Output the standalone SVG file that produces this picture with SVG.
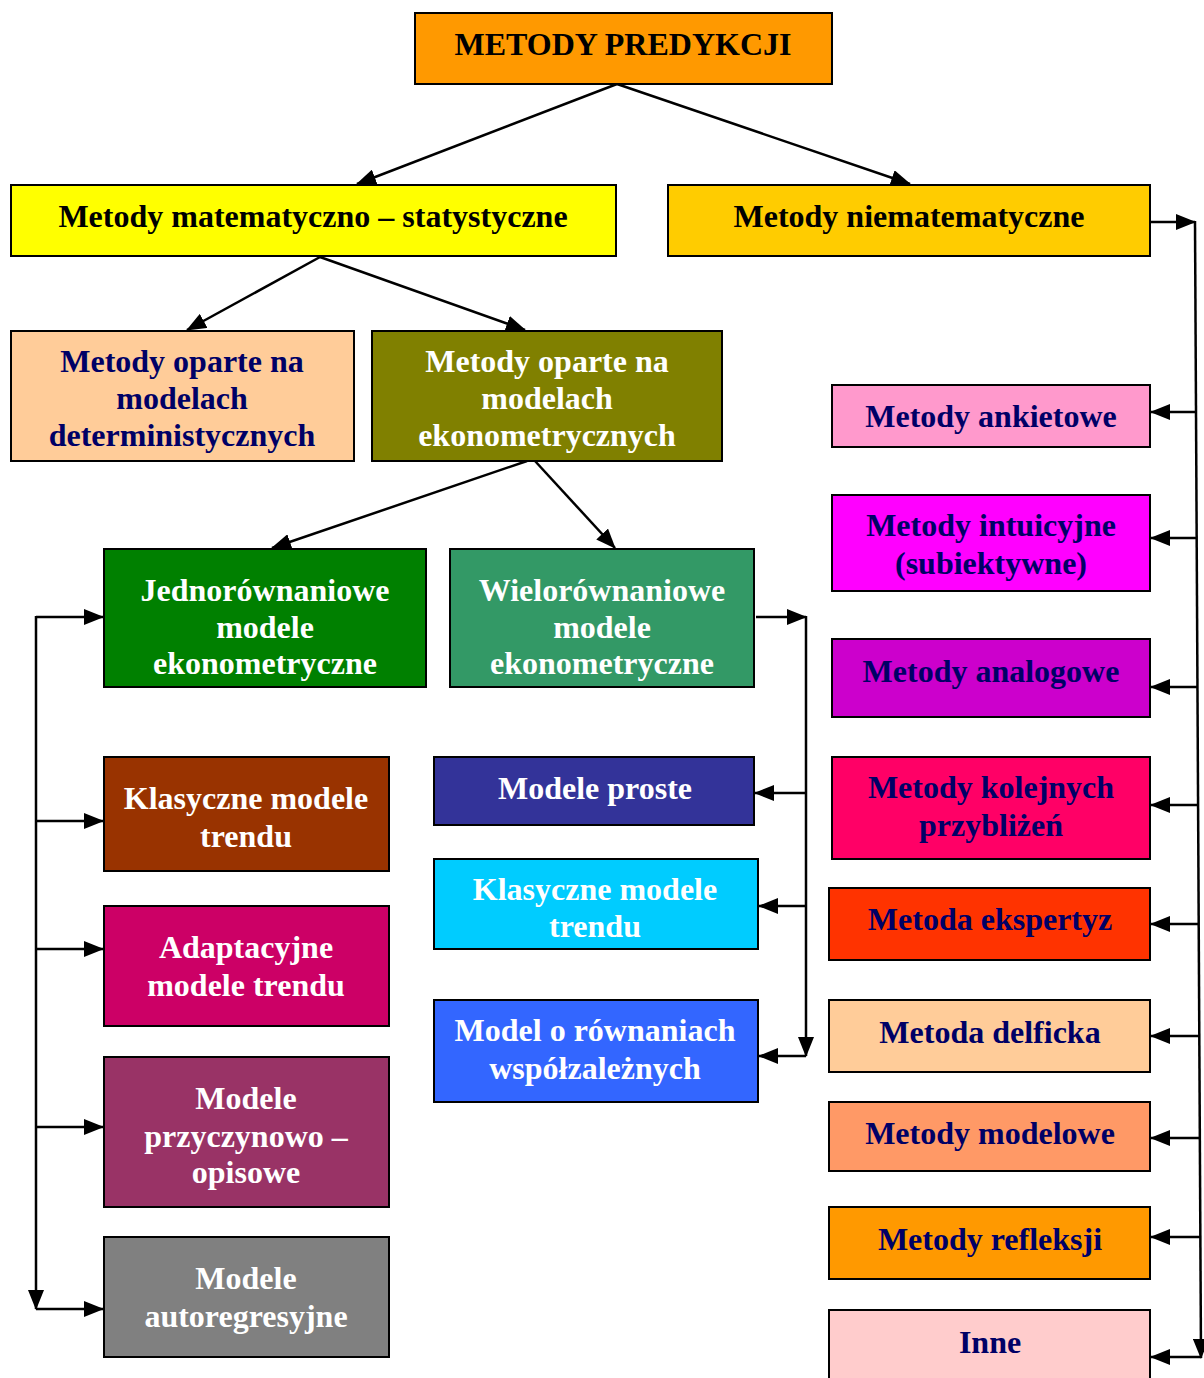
<svg xmlns="http://www.w3.org/2000/svg" width="1204" height="1378" viewBox="0 0 1204 1378">
<style>
.b{stroke:#000;stroke-width:2}
.t{font-family:"Liberation Serif","Times New Roman",serif;font-weight:bold;font-size:32px;text-anchor:middle}
.k{fill:#000}
.n{fill:#000066}
.w{fill:#fff}
.c{fill:none;stroke:#000;stroke-width:2.5}
</style>
<defs>
<marker id="ah" markerUnits="userSpaceOnUse" markerWidth="20" markerHeight="16" refX="19" refY="8" orient="auto">
<path d="M0,0 L20,8 L0,16 Z" fill="#000"/>
</marker>
</defs>
<rect width="1204" height="1378" fill="#fff"/>

<g id="connectors">
<line class="c" x1="617" y1="84" x2="357" y2="184" marker-end="url(#ah)"/>
<line class="c" x1="617" y1="84" x2="910" y2="184" marker-end="url(#ah)"/>
<line class="c" x1="320" y1="257" x2="187" y2="330" marker-end="url(#ah)"/>
<line class="c" x1="320" y1="257" x2="525" y2="330" marker-end="url(#ah)"/>
<line class="c" x1="527" y1="461" x2="272" y2="548" marker-end="url(#ah)"/>
<line class="c" x1="535" y1="461" x2="615" y2="548" marker-end="url(#ah)"/>
<!-- left bracket -->
<line class="c" x1="36" y1="617" x2="103" y2="617" marker-end="url(#ah)"/>
<line class="c" x1="36" y1="616" x2="36" y2="1309" marker-end="url(#ah)"/>
<line class="c" x1="36" y1="821" x2="103" y2="821" marker-end="url(#ah)"/>
<line class="c" x1="36" y1="949" x2="103" y2="949" marker-end="url(#ah)"/>
<line class="c" x1="36" y1="1127" x2="103" y2="1127" marker-end="url(#ah)"/>
<line class="c" x1="36" y1="1309" x2="103" y2="1309" marker-end="url(#ah)"/>
<!-- middle bracket -->
<line class="c" x1="756" y1="617" x2="806" y2="617" marker-end="url(#ah)"/>
<line class="c" x1="806" y1="616" x2="806" y2="1056" marker-end="url(#ah)"/>
<line class="c" x1="806" y1="793" x2="755" y2="793" marker-end="url(#ah)"/>
<line class="c" x1="806" y1="906" x2="759" y2="906" marker-end="url(#ah)"/>
<line class="c" x1="806" y1="1056" x2="759" y2="1056" marker-end="url(#ah)"/>
<!-- right bracket -->
<line class="c" x1="1151" y1="222" x2="1195" y2="222" marker-end="url(#ah)"/>
<line class="c" x1="1195" y1="221" x2="1201" y2="1358" marker-end="url(#ah)"/>
<line class="c" x1="1196" y1="412" x2="1151" y2="412" marker-end="url(#ah)"/>
<line class="c" x1="1196" y1="538" x2="1151" y2="538" marker-end="url(#ah)"/>
<line class="c" x1="1197" y1="687" x2="1151" y2="687" marker-end="url(#ah)"/>
<line class="c" x1="1198" y1="805" x2="1151" y2="805" marker-end="url(#ah)"/>
<line class="c" x1="1198" y1="924" x2="1151" y2="924" marker-end="url(#ah)"/>
<line class="c" x1="1199" y1="1036" x2="1151" y2="1036" marker-end="url(#ah)"/>
<line class="c" x1="1199" y1="1138" x2="1151" y2="1138" marker-end="url(#ah)"/>
<line class="c" x1="1200" y1="1237" x2="1151" y2="1237" marker-end="url(#ah)"/>
<line class="c" x1="1201" y1="1357" x2="1151" y2="1357" marker-end="url(#ah)"/>
</g>

<g id="n-root"><rect class="b" x="415" y="13" width="417" height="71" fill="#FF9900"/><text class="t k" x="623" y="55">METODY PREDYKCJI</text></g>
<g id="n-matstat"><rect class="b" x="11" y="185" width="605" height="71" fill="#FFFF00"/><text class="t k" x="313" y="227">Metody matematyczno – statystyczne</text></g>
<g id="n-niemat"><rect class="b" x="668" y="185" width="482" height="71" fill="#FFCC00"/><text class="t k" x="909" y="227">Metody niematematyczne</text></g>
<g id="n-determ"><rect class="b" x="11" y="331" width="343" height="130" fill="#FFCC99"/><text class="t n" x="182" y="372">Metody oparte na</text><text class="t n" x="182" y="409">modelach</text><text class="t n" x="182" y="446">deterministycznych</text></g>
<g id="n-ekonom"><rect class="b" x="372" y="331" width="350" height="130" fill="#808000"/><text class="t w" x="547" y="372">Metody oparte na</text><text class="t w" x="547" y="409">modelach</text><text class="t w" x="547" y="446">ekonometrycznych</text></g>
<g id="n-jedno"><rect class="b" x="104" y="549" width="322" height="138" fill="#008000"/><text class="t w" x="265" y="601">Jednorównaniowe</text><text class="t w" x="265" y="638">modele</text><text class="t w" x="265" y="674">ekonometryczne</text></g>
<g id="n-wielo"><rect class="b" x="450" y="549" width="304" height="138" fill="#339966"/><text class="t w" x="602" y="601">Wielorównaniowe</text><text class="t w" x="602" y="638">modele</text><text class="t w" x="602" y="674">ekonometryczne</text></g>
<g id="n-klas1"><rect class="b" x="104" y="757" width="285" height="114" fill="#993300"/><text class="t w" x="246" y="809">Klasyczne modele</text><text class="t w" x="246" y="847">trendu</text></g>
<g id="n-adapt"><rect class="b" x="104" y="906" width="285" height="120" fill="#CC0066"/><text class="t w" x="246" y="958">Adaptacyjne</text><text class="t w" x="246" y="996">modele trendu</text></g>
<g id="n-przycz"><rect class="b" x="104" y="1057" width="285" height="150" fill="#993366"/><text class="t w" x="246" y="1109">Modele</text><text class="t w" x="246" y="1147">przyczynowo –</text><text class="t w" x="246" y="1183">opisowe</text></g>
<g id="n-autoreg"><rect class="b" x="104" y="1237" width="285" height="120" fill="#808080"/><text class="t w" x="246" y="1289">Modele</text><text class="t w" x="246" y="1327">autoregresyjne</text></g>
<g id="n-proste"><rect class="b" x="434" y="757" width="320" height="68" fill="#333399"/><text class="t w" x="595" y="799">Modele proste</text></g>
<g id="n-klas2"><rect class="b" x="434" y="859" width="324" height="90" fill="#00CCFF"/><text class="t w" x="595" y="900">Klasyczne modele</text><text class="t w" x="595" y="937">trendu</text></g>
<g id="n-wspol"><rect class="b" x="434" y="1000" width="324" height="102" fill="#3366FF"/><text class="t w" x="595" y="1041">Model o równaniach</text><text class="t w" x="595" y="1079">współzależnych</text></g>
<g id="n-ankiet"><rect class="b" x="832" y="385" width="318" height="62" fill="#FF99CC"/><text class="t n" x="991" y="427">Metody ankietowe</text></g>
<g id="n-intuic"><rect class="b" x="832" y="495" width="318" height="96" fill="#FF00FF"/><text class="t n" x="991" y="536">Metody intuicyjne</text><text class="t n" x="991" y="574">(subiektywne)</text></g>
<g id="n-analog"><rect class="b" x="832" y="639" width="318" height="78" fill="#CC00CC"/><text class="t n" x="991" y="682">Metody analogowe</text></g>
<g id="n-kolej"><rect class="b" x="832" y="757" width="318" height="102" fill="#FF0066"/><text class="t n" x="991" y="798">Metody kolejnych</text><text class="t n" x="991" y="836">przybliżeń</text></g>
<g id="n-ekspert"><rect class="b" x="829" y="888" width="321" height="72" fill="#FF3300"/><text class="t n" x="990" y="930">Metoda ekspertyz</text></g>
<g id="n-delf"><rect class="b" x="829" y="1000" width="321" height="72" fill="#FFCC99"/><text class="t n" x="990" y="1043">Metoda delficka</text></g>
<g id="n-model"><rect class="b" x="829" y="1102" width="321" height="69" fill="#FF9966"/><text class="t n" x="990" y="1144">Metody modelowe</text></g>
<g id="n-reflek"><rect class="b" x="829" y="1207" width="321" height="72" fill="#FF9900"/><text class="t n" x="990" y="1250">Metody refleksji</text></g>
<g id="n-inne"><rect class="b" x="829" y="1310" width="321" height="80" fill="#FFCCCC"/><text class="t n" x="990" y="1353">Inne</text></g>
</svg>
